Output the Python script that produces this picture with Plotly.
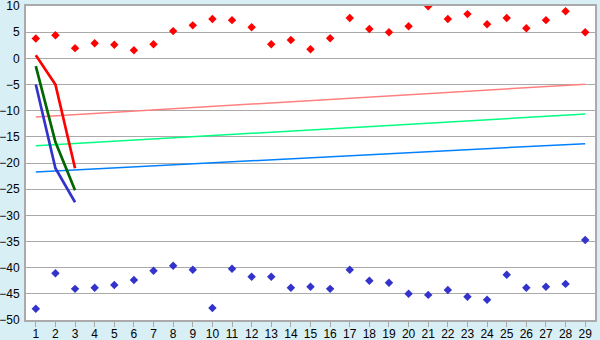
import plotly.graph_objects as go

categories = list(range(1, 30))

upper_points = [3.8, 4.4, 1.95, 2.9, 2.6, 1.55, 2.7, 5.2, 6.3, 7.5,
                7.3, 5.95, 2.7, 3.5, 1.75, 3.85, 7.7, 5.6, 5.0, 6.15,
                9.95, 7.5, 8.45, 6.5, 7.7, 5.75, 7.3, 9.0, 5.0]
lower_points = [-47.85, -41.05, -44.05, -43.85, -43.3, -42.35, -40.6, -39.65, -40.4, -47.7,
                -40.2, -41.75, -41.75, -43.85, -43.65, -44.05, -40.4, -42.5, -42.9, -45.0,
                -45.2, -44.25, -45.55, -46.15, -41.35, -43.85, -43.65, -43.1, -34.7]

short_x = [1, 2, 3]
red_short = [0.6, -5.0, -21.0]
green_short = [-1.5, -16.0, -25.2]
blue_short = [-5.0, -21.0, -27.5]

trend_x = [1, 29]
pink_trend = [-11.2, -4.95]
lightgreen_trend = [-16.7, -10.65]
lightblue_trend = [-21.7, -16.3]

font = dict(family="Liberation Sans, Arial, sans-serif", size=12, color="#000000")
grid = "#aaaaaa"

fig = go.Figure()

for ys, col in [(pink_trend, "#ff8080"), (lightgreen_trend, "#00ff80"), (lightblue_trend, "#0080ff")]:
    fig.add_trace(go.Scatter(x=trend_x, y=ys, mode="lines", line=dict(color=col, width=1.5)))

for ys, col in [(red_short, "#ff0000"), (green_short, "#006600"), (blue_short, "#3333cc")]:
    fig.add_trace(go.Scatter(x=short_x, y=ys, mode="lines", line=dict(color=col, width=2.7)))

fig.add_trace(go.Scatter(x=categories, y=upper_points, mode="markers",
                         marker=dict(symbol="diamond", size=6.5, color="#ff0000")))
fig.add_trace(go.Scatter(x=categories, y=lower_points, mode="markers",
                         marker=dict(symbol="diamond", size=6.5, color="#3333cc")))

fig.update_layout(
    width=600, height=340,
    margin=dict(l=26, r=5, t=6, b=20, autoexpand=False),
    paper_bgcolor="#d9eff6",
    plot_bgcolor="#ffffff",
    showlegend=False,
    hovermode=False,
    font=font,
)
fig.update_xaxes(
    range=[0.5, 29.5], tickmode="array", tickvals=categories,
    ticktext=[str(c) for c in categories],
    ticks="outside", ticklen=5, tickcolor=grid, tickwidth=1,
    showgrid=False, zeroline=False, automargin=False,
    showline=True, linecolor=grid, linewidth=2, mirror=True,
    tickfont=font, ticklabelstandoff=-3, ticklabeloverflow="allow",
)
fig.update_yaxes(
    range=[-50, 10], tickmode="array", tickvals=list(range(-50, 11, 5)),
    ticktext=[str(v).replace("-", "\u2212") for v in range(-50, 11, 5)],
    ticks="", showgrid=True, gridcolor=grid, gridwidth=1, automargin=False,
    zeroline=False, showline=True, linecolor=grid, linewidth=2, mirror=True,
    tickfont=font, ticklabelstandoff=2, ticklabeloverflow="allow",
)

fig.write_html("out.html")
